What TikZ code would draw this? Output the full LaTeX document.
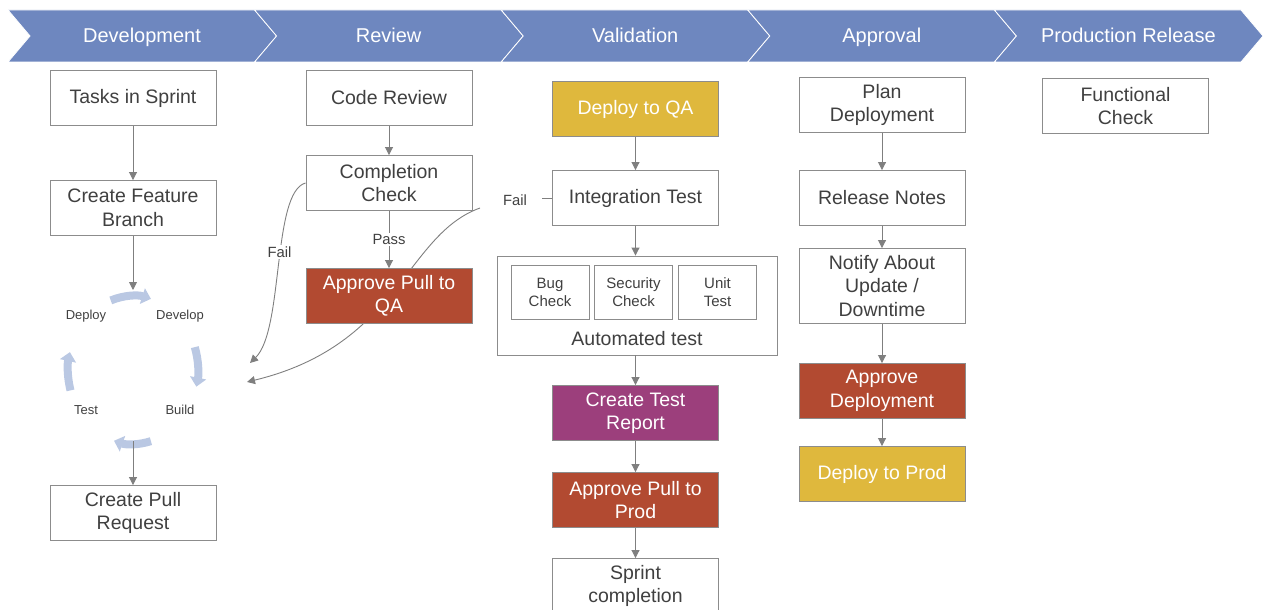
\documentclass[tikz,border=0pt]{standalone}
\usepackage{fontspec}
\setmainfont{Liberation Sans}
\usetikzlibrary{arrows.meta}
\definecolor{band}{HTML}{6E87BF}
\definecolor{ink}{HTML}{404040}
\definecolor{boxline}{HTML}{8C8C8C}
\definecolor{wire}{HTML}{7F7F7F}
\definecolor{approve}{HTML}{B24A31}
\definecolor{deploy}{HTML}{DFB83D}
\definecolor{report}{HTML}{9C3F7C}
\definecolor{cycle}{HTML}{BAC8E3}
\newcommand{\flowfont}{\fontsize{19.5}{23.5}\selectfont}
\newcommand{\smallfont}{\fontsize{13}{15}\selectfont}
\newcommand{\tagfont}{\fontsize{14.8}{17}\selectfont}
\newcommand{\innerfont}{\fontsize{15}{18}\selectfont}
\begin{document}
\begin{tikzpicture}[x=1pt,y=-1pt,
  box/.style={draw=boxline, line width=0.9pt, fill=white, minimum width=166pt,
    minimum height=55pt, inner sep=0pt, align=center, text=ink, font=\flowfont},
  colbox/.style={box, fill=#1, text=white},
  smallbox/.style={draw=boxline, line width=0.9pt, fill=white, minimum width=78pt,
    minimum height=54pt, inner sep=0pt, align=center, text=ink, font=\innerfont},
  stagetext/.style={text=white, font=\fontsize{20}{24}\selectfont, anchor=base},
  lbl/.style={text=ink, font=\smallfont, inner sep=1.5pt},
  tag/.style={text=ink, font=\tagfont, inner sep=1.5pt, fill=white},
  arr/.style={draw=wire, line width=0.9pt, -{Triangle[length=8pt,width=8pt]}},
  cyc/.style={draw=cycle, line width=8pt, -{Triangle[length=9pt,width=16pt]}},
]
\useasboundingbox (0,0) rectangle (1263,610);

% stage banner
\foreach \name [count=\i from 0] in {Development,Review,Validation,Approval,Production Release}{
  \pgfmathsetmacro{\xa}{8+246.6*\i}
  \fill[band, draw=white, line width=0.8pt] (\xa,10) -- ++(246.6,0) -- ++(22,26) -- ++(-22,26)
     -- ++(-246.6,0) -- ++(22,-26) -- cycle;
  \node[stagetext] (stage\i) at (\xa+134,42.5) {\name};
}

% Development column
\node[box] (tasks) at (133,98) {Tasks in Sprint};
\node[box] (feature) at (133,208) {Create Feature\\Branch};
\node[box] (pull) at (133,513) {Create Pull\\Request};

% clockwise Develop / Build / Test / Deploy cycle
\draw[cyc] (133,370) ++(250:65 and 74) arc[start angle=250, end angle=286, x radius=65, y radius=74];
\draw[cyc] (133,370) ++(-18:65 and 74) arc[start angle=-18, end angle=13, x radius=65, y radius=74];
\draw[cyc] (133,370) ++(74:65 and 74) arc[start angle=74, end angle=107, x radius=65, y radius=74];
\draw[cyc] (133,370) ++(164:65 and 74) arc[start angle=164, end angle=194, x radius=65, y radius=74];
\node[lbl] (deploy) at (86,316) {Deploy};
\node[lbl] (develop) at (180,316) {Develop};
\node[lbl] (test) at (86,410) {Test};
\node[lbl] (build) at (180,410) {Build};
\coordinate (cyctop) at (133,290);
\coordinate (cycbot) at (133,441);
\coordinate (backA) at (250,363);
\coordinate (backB) at (247,382);

\draw[arr] (tasks) -- (feature);
\draw[arr] (feature) -- (cyctop);
\draw[arr] (cycbot) -- (pull);

% Validation column (placed first so the fail curve runs beneath the review boxes)
\node[colbox=deploy] (deployqa) at (635.5,109) {Deploy to QA};
\node[box] (integ) at (635.5,198) {Integration Test};
\node[tag] (failB) at (515,200) {Fail};
\draw[wire, line width=0.9pt] (integ.west) -- ++(-10,0);
\draw[wire, line width=0.9pt, -{Triangle[length=8pt,width=8pt]}]
  (480,208) .. controls (405,235) and (400,345) .. (backB);

% Review column
\node[box] (code) at (389,98) {Code Review};
\node[box] (complete) at (389,183) {Completion\\Check};
\node[colbox=approve] (approveqa) at (389,296) {Approve Pull to\\QA};
\draw[arr] (code) -- (complete);
\draw[arr] (complete) -- node[tag] {Pass} (approveqa);
\draw[wire, line width=0.9pt, -{Triangle[length=8pt,width=8pt]}]
  (complete.west) .. controls (272,192) and (284,330) .. node[tag, pos=0.45] {Fail} (backA);

% Automated test group
\node[draw=boxline, line width=0.9pt, fill=white, minimum width=280pt, minimum height=99pt,
  inner sep=0pt] (auto) at (637,305.5) {};
\node[text=ink, font=\flowfont] (autolbl) at (637,339) {Automated test};
\node[smallbox] (bug) at (550,292) {Bug\\Check};
\node[smallbox] (sec) at (633.5,292) {Security\\Check};
\node[smallbox] (unit) at (717.5,292) {Unit\\Test};

\node[colbox=report] (report) at (635.5,413) {Create Test\\Report};
\node[colbox=approve] (approveprod) at (635.5,500) {Approve Pull to\\Prod};
\node[box] (sprint) at (635.5,586) {Sprint\\completion};
\draw[arr] (deployqa) -- (integ);
\draw[arr] (integ.south) -- (integ.south |- auto.north);
\draw[arr] (report.north |- auto.south) -- (report);
\draw[arr] (report) -- (approveprod);
\draw[arr] (approveprod) -- (sprint);

% Approval column
\node[box] (plan) at (882,105) {Plan\\Deployment};
\node[box] (notes) at (882,198) {Release Notes};
\node[box, minimum height=75pt] (notify) at (882,286) {Notify About\\Update /\\Downtime};
\node[colbox=approve] (approvedep) at (882,391) {Approve\\Deployment};
\node[colbox=deploy] (deployprod) at (882,474) {Deploy to Prod};
\draw[arr] (plan) -- (notes);
\draw[arr] (notes) -- (notify);
\draw[arr] (notify) -- (approvedep);
\draw[arr] (approvedep) -- (deployprod);

% Production release column
\node[box] (functional) at (1125.5,106) {Functional\\Check};
\end{tikzpicture}
\end{document}
